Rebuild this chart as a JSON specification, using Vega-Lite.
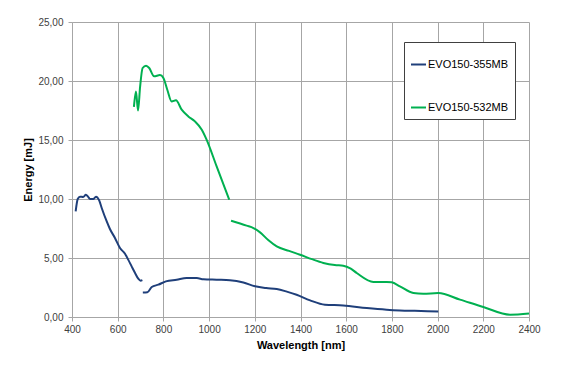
{
  "$schema": "https://vega.github.io/schema/vega-lite/v6.json",
  "width": 457,
  "height": 295,
  "autosize": {"type": "none"},
  "padding": {"left": 72, "top": 22, "right": 41, "bottom": 50},
  "background": "white",
  "config": {
    "view": {"stroke": null},
    "font": "Liberation Sans",
    "axis": {
      "gridColor": "#a6a6a6",
      "gridWidth": 1,
      "domainColor": "#a6a6a6",
      "tickColor": "#a6a6a6",
      "tickSize": 4,
      "labelFont": "Liberation Sans",
      "labelFontSize": 10,
      "labelColor": "#404040",
      "labelFlush": false,
      "labelOverlap": false,
      "titleFont": "Liberation Sans",
      "titleFontSize": 11,
      "titleFontWeight": "bold",
      "titleColor": "#000000"
    }
  },
  "data": {
    "values": [
      {"series": "EVO150-355MB", "seg": "a", "wl": 416, "e": 8.95},
      {"series": "EVO150-355MB", "seg": "a", "wl": 425, "e": 10.0},
      {"series": "EVO150-355MB", "seg": "a", "wl": 435, "e": 10.2},
      {"series": "EVO150-355MB", "seg": "a", "wl": 449, "e": 10.17},
      {"series": "EVO150-355MB", "seg": "a", "wl": 461, "e": 10.36},
      {"series": "EVO150-355MB", "seg": "a", "wl": 470, "e": 10.2},
      {"series": "EVO150-355MB", "seg": "a", "wl": 479, "e": 10.0},
      {"series": "EVO150-355MB", "seg": "a", "wl": 493, "e": 10.0},
      {"series": "EVO150-355MB", "seg": "a", "wl": 505, "e": 10.2},
      {"series": "EVO150-355MB", "seg": "a", "wl": 519, "e": 9.88},
      {"series": "EVO150-355MB", "seg": "a", "wl": 530, "e": 9.24},
      {"series": "EVO150-355MB", "seg": "a", "wl": 552, "e": 8.1},
      {"series": "EVO150-355MB", "seg": "a", "wl": 566, "e": 7.46},
      {"series": "EVO150-355MB", "seg": "a", "wl": 588, "e": 6.7},
      {"series": "EVO150-355MB", "seg": "a", "wl": 610, "e": 5.85},
      {"series": "EVO150-355MB", "seg": "a", "wl": 632, "e": 5.36},
      {"series": "EVO150-355MB", "seg": "a", "wl": 646, "e": 4.86},
      {"series": "EVO150-355MB", "seg": "a", "wl": 661, "e": 4.29},
      {"series": "EVO150-355MB", "seg": "a", "wl": 676, "e": 3.73},
      {"series": "EVO150-355MB", "seg": "a", "wl": 690, "e": 3.25},
      {"series": "EVO150-355MB", "seg": "a", "wl": 700, "e": 3.08},
      {"series": "EVO150-355MB", "seg": "a", "wl": 708, "e": 3.12},
      {"series": "EVO150-355MB", "seg": "b", "wl": 710, "e": 2.08},
      {"series": "EVO150-355MB", "seg": "b", "wl": 730, "e": 2.1},
      {"series": "EVO150-355MB", "seg": "b", "wl": 749, "e": 2.54},
      {"series": "EVO150-355MB", "seg": "b", "wl": 778, "e": 2.74},
      {"series": "EVO150-355MB", "seg": "b", "wl": 811, "e": 3.02},
      {"series": "EVO150-355MB", "seg": "b", "wl": 858, "e": 3.16},
      {"series": "EVO150-355MB", "seg": "b", "wl": 902, "e": 3.3},
      {"series": "EVO150-355MB", "seg": "b", "wl": 946, "e": 3.3},
      {"series": "EVO150-355MB", "seg": "b", "wl": 975, "e": 3.2},
      {"series": "EVO150-355MB", "seg": "b", "wl": 1033, "e": 3.16},
      {"series": "EVO150-355MB", "seg": "b", "wl": 1091, "e": 3.12},
      {"series": "EVO150-355MB", "seg": "b", "wl": 1150, "e": 2.93},
      {"series": "EVO150-355MB", "seg": "b", "wl": 1201, "e": 2.6},
      {"series": "EVO150-355MB", "seg": "b", "wl": 1250, "e": 2.45},
      {"series": "EVO150-355MB", "seg": "b", "wl": 1296, "e": 2.37},
      {"series": "EVO150-355MB", "seg": "b", "wl": 1340, "e": 2.15},
      {"series": "EVO150-355MB", "seg": "b", "wl": 1383, "e": 1.89},
      {"series": "EVO150-355MB", "seg": "b", "wl": 1442, "e": 1.41},
      {"series": "EVO150-355MB", "seg": "b", "wl": 1507, "e": 1.04},
      {"series": "EVO150-355MB", "seg": "b", "wl": 1587, "e": 0.98},
      {"series": "EVO150-355MB", "seg": "b", "wl": 1690, "e": 0.76},
      {"series": "EVO150-355MB", "seg": "b", "wl": 1777, "e": 0.62},
      {"series": "EVO150-355MB", "seg": "b", "wl": 1835, "e": 0.56},
      {"series": "EVO150-355MB", "seg": "b", "wl": 1900, "e": 0.52},
      {"series": "EVO150-355MB", "seg": "b", "wl": 2003, "e": 0.47},
      {"series": "EVO150-532MB", "seg": "c", "wl": 671, "e": 17.8},
      {"series": "EVO150-532MB", "seg": "c", "wl": 680, "e": 19.1},
      {"series": "EVO150-532MB", "seg": "c", "wl": 689, "e": 17.5},
      {"series": "EVO150-532MB", "seg": "c", "wl": 698, "e": 19.5},
      {"series": "EVO150-532MB", "seg": "c", "wl": 709, "e": 21.1},
      {"series": "EVO150-532MB", "seg": "c", "wl": 724, "e": 21.3},
      {"series": "EVO150-532MB", "seg": "c", "wl": 738, "e": 21.1},
      {"series": "EVO150-532MB", "seg": "c", "wl": 759, "e": 20.4},
      {"series": "EVO150-532MB", "seg": "c", "wl": 785, "e": 20.5},
      {"series": "EVO150-532MB", "seg": "c", "wl": 800, "e": 20.25},
      {"series": "EVO150-532MB", "seg": "c", "wl": 817, "e": 19.26},
      {"series": "EVO150-532MB", "seg": "c", "wl": 836, "e": 18.27},
      {"series": "EVO150-532MB", "seg": "c", "wl": 855, "e": 18.36},
      {"series": "EVO150-532MB", "seg": "c", "wl": 880, "e": 17.57},
      {"series": "EVO150-532MB", "seg": "c", "wl": 909, "e": 17.0},
      {"series": "EVO150-532MB", "seg": "c", "wl": 938, "e": 16.58},
      {"series": "EVO150-532MB", "seg": "c", "wl": 968, "e": 15.87},
      {"series": "EVO150-532MB", "seg": "c", "wl": 989, "e": 15.03},
      {"series": "EVO150-532MB", "seg": "c", "wl": 1033, "e": 12.76},
      {"series": "EVO150-532MB", "seg": "c", "wl": 1088, "e": 9.94},
      {"series": "EVO150-532MB", "seg": "d", "wl": 1096, "e": 8.16},
      {"series": "EVO150-532MB", "seg": "d", "wl": 1164, "e": 7.74},
      {"series": "EVO150-532MB", "seg": "d", "wl": 1194, "e": 7.54},
      {"series": "EVO150-532MB", "seg": "d", "wl": 1223, "e": 7.17},
      {"series": "EVO150-532MB", "seg": "d", "wl": 1260, "e": 6.5},
      {"series": "EVO150-532MB", "seg": "d", "wl": 1296, "e": 5.98},
      {"series": "EVO150-532MB", "seg": "d", "wl": 1350, "e": 5.6},
      {"series": "EVO150-532MB", "seg": "d", "wl": 1398, "e": 5.28},
      {"series": "EVO150-532MB", "seg": "d", "wl": 1450, "e": 4.9},
      {"series": "EVO150-532MB", "seg": "d", "wl": 1500, "e": 4.58},
      {"series": "EVO150-532MB", "seg": "d", "wl": 1550, "e": 4.4},
      {"series": "EVO150-532MB", "seg": "d", "wl": 1587, "e": 4.35},
      {"series": "EVO150-532MB", "seg": "d", "wl": 1620, "e": 4.1},
      {"series": "EVO150-532MB", "seg": "d", "wl": 1646, "e": 3.73},
      {"series": "EVO150-532MB", "seg": "d", "wl": 1719, "e": 2.97},
      {"series": "EVO150-532MB", "seg": "d", "wl": 1777, "e": 2.97},
      {"series": "EVO150-532MB", "seg": "d", "wl": 1799, "e": 2.94},
      {"series": "EVO150-532MB", "seg": "d", "wl": 1835, "e": 2.6},
      {"series": "EVO150-532MB", "seg": "d", "wl": 1894, "e": 2.03},
      {"series": "EVO150-532MB", "seg": "d", "wl": 1937, "e": 1.97},
      {"series": "EVO150-532MB", "seg": "d", "wl": 2003, "e": 2.03},
      {"series": "EVO150-532MB", "seg": "d", "wl": 2098, "e": 1.47},
      {"series": "EVO150-532MB", "seg": "d", "wl": 2200, "e": 0.85},
      {"series": "EVO150-532MB", "seg": "d", "wl": 2317, "e": 0.2},
      {"series": "EVO150-532MB", "seg": "d", "wl": 2400, "e": 0.3}
    ]
  },
  "mark": {"type": "line", "strokeWidth": 2, "interpolate": "monotone"},
  "encoding": {
    "x": {
      "field": "wl",
      "type": "quantitative",
      "scale": {"domain": [400, 2400], "nice": false},
      "axis": {"title": "Wavelength [nm]", "format": "d", "values": [400, 600, 800, 1000, 1200, 1400, 1600, 1800, 2000, 2200, 2400], "labelPadding": 3, "titlePadding": 5}
    },
    "y": {
      "field": "e",
      "type": "quantitative",
      "scale": {"domain": [0, 25], "nice": false},
      "axis": {"title": "Energy [mJ]", "values": [0, 5, 10, 15, 20, 25], "labelExpr": "replace(format(datum.value, '.2f'), '.', ',')", "labelPadding": 5, "titlePadding": 4}
    },
    "color": {
      "field": "series",
      "type": "nominal",
      "scale": {"domain": ["EVO150-355MB", "EVO150-532MB"], "range": ["#1f3f7a", "#00b050"]},
      "legend": {
        "orient": "none",
        "legendX": 332,
        "legendY": 20,
        "title": " ",
        "titleFontSize": 8,
        "titlePadding": 0,
        "padding": 6,
        "rowPadding": 29,
        "strokeColor": "#404040",
        "fillColor": "white",
        "symbolType": "stroke",
        "symbolSize": 225,
        "symbolStrokeWidth": 2,
        "labelFont": "Liberation Sans",
        "labelFontSize": 11,
        "labelColor": "#000000",
        "labelOffset": 1
      }
    },
    "detail": {"field": "seg", "type": "nominal"}
  }
}
